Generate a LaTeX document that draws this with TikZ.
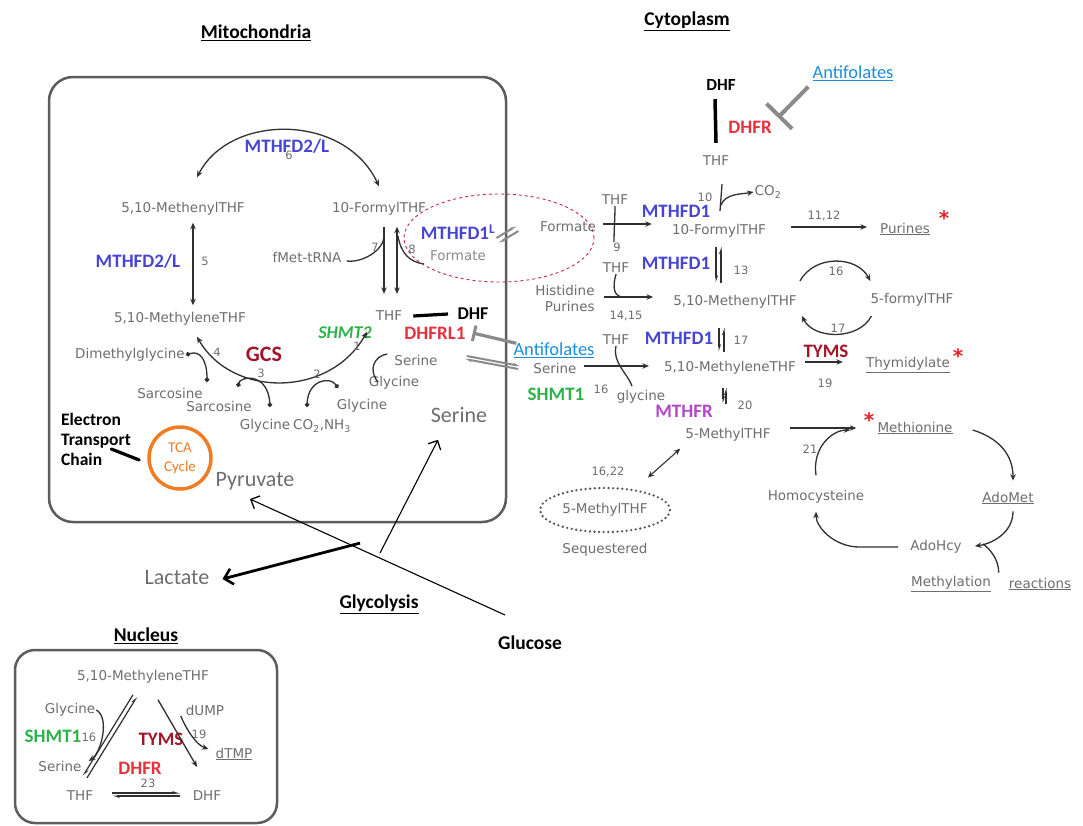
\documentclass[tikz,border=0pt]{standalone}
\usepackage{fontspec}
\setmainfont{Carlito}
\newfontfamily\metfont{DejaVu Sans}
\usetikzlibrary{arrows.meta,calc,positioning,shapes.geometric}
\definecolor{Met}{HTML}{6E6E6E}
\definecolor{Ink}{HTML}{303030}
\definecolor{Frame}{HTML}{5C5C5C}
\definecolor{Enz}{HTML}{4646D2}
\definecolor{EnzRed}{HTML}{E6323E}
\definecolor{EnzDark}{HTML}{A3162A}
\definecolor{EnzGreen}{HTML}{2DB34A}
\definecolor{EnzPink}{HTML}{B347C8}
\definecolor{Tca}{HTML}{F07D23}
\definecolor{Link}{HTML}{1C8FDB}
\definecolor{Mark}{HTML}{E8202A}
\definecolor{Inhib}{HTML}{8A8A8A}
\definecolor{Loop}{HTML}{C8283C}

\begin{document}
\begin{tikzpicture}[x=1pt,y=-1pt,
  met/.style={font=\metfont\fontsize{13.5}{16}\selectfont,text=Met,inner sep=1pt},
  num/.style={font=\metfont\fontsize{11.5}{13}\selectfont,text=Met,inner sep=0pt},
  enz/.style={font=\bfseries\fontsize{19}{21}\selectfont,inner sep=1pt},
  big/.style={font=\fontsize{22}{24}\selectfont,text=Met,inner sep=1pt},
  ttl/.style={font=\bfseries\fontsize{19.5}{22}\selectfont,inner sep=1pt},
  link/.style={font=\fontsize{18.5}{20}\selectfont,text=Link,inner sep=1pt},
  redmark/.style={font=\metfont\bfseries\fontsize{20}{20}\selectfont,text=Mark,inner sep=0pt},
  flow/.style={-{Stealth[length=6.5pt,width=5.5pt]},draw=Ink,line width=1.3pt},
  both/.style={{Stealth[length=6.5pt,width=5.5pt]}-{Stealth[length=6.5pt,width=5.5pt]},draw=Ink,line width=1.3pt},
  hook/.style={draw=Ink,line width=1.3pt},
  ball/.style={{Circle[length=4.5pt]}-{Circle[length=4.5pt]},draw=Ink,line width=1.3pt},
  harp/.style={-{Stealth[harpoon,length=6pt,width=4pt]},draw=Ink,line width=1.2pt},
  gharp/.style={-{Stealth[harpoon,length=6pt,width=4pt]},draw=Inhib,line width=2pt},
  inhib/.style={-{Bar[width=36pt,line width=4pt]},draw=Inhib,line width=4pt},
  barb/.style={-{Straight Barb[length=7pt,width=14pt,line width=1.3pt]},draw=black,line width=1.1pt}]
\path[fill=white] (0,0) rectangle (1083,825);
\useasboundingbox (0,0) rectangle (1083,825);

\draw[Frame,line width=2.5pt,rounded corners=24pt] (49,77) rectangle (506,522);
\draw[Frame,line width=2.5pt,rounded corners=20pt] (15,650) rectangle (277,823);

\node[ttl] (mito) at (256,33) {\underline{Mitochondria}};
\node[ttl] (cyto) at (687,21) {\underline{Cytoplasm}};
\node[ttl] (nuc) at (146,636) {\underline{Nucleus}};

\node[met] (mmethenyl) at (183,209) {5,10-MethenylTHF};
\node[met] (mformyl) at (379,209) {10-FormylTHF};
\node[enz,text=Enz] (mthfd2a) at (287,146) {MTHFD2/L};
\node[num] (n6) at (289,155) {6};
\draw[both] ([yshift=15pt]mformyl.north) .. controls (345,113) and (230,113) .. ($(mmethenyl.north)+(14,-24)$);
\node[enz,text=Enz] (mthfd2b) at (138,261) {MTHFD2/L};
\node[num] (n5) at (205,261) {5};
\node[met] (mmethylene) at (180,319) {5,10-MethyleneTHF};
\draw[both] ($(mmethenyl.south)+(10,6)$) -- ($(mmethylene.north)+(13,-6)$);
\node[met] (fmet) at (307,257) {fMet-tRNA};
\node[num] (n7) at (375,247) {7};
\node[num] (n8) at (412,249) {8};
\node[met] (mthf) at (389,316) {THF};
\draw[flow] ($(mformyl.south)+(5,10)$) -- ($(mthf.north)+(-5,-16)$);
\draw[both] ($(mformyl.south)+(18,10)$) -- ($(mthf.north)+(8,-16)$);
\draw[hook] ($(fmet.east)+(4,4)$) .. controls +(16,2) and +(0,14) .. (384,236);
\draw[hook] (398,236) .. controls (401,254) and (410,262) .. (424,264);
\node[draw=Loop,dashed,line width=0.9pt,ellipse,minimum width=190pt,minimum height=88pt,inner sep=0pt] (formell) at (499,238) {};
\node[enz,text=Enz] (mthfd1l) at (458,232) {MTHFD1\textsuperscript{L}};
\node[met,text=Met!80] (mformate) at (458,256) {Formate};
\draw[gharp] ($(mthfd1l.east)+(0,6)$) -- ($(mthfd1l.east)+(20,-6)$);
\draw[gharp] ($(mthfd1l.east)+(22,-1)$) -- ($(mthfd1l.east)+(2,11)$);
\node[font=\bfseries\fontsize{18}{20}\selectfont] (mdhf) at (473,314) {DHF};
\draw[line width=3.2pt] ($(mthf.east)+(10,0)$) -- ($(mdhf.west)+(-6,0)$);
\node[enz,text=EnzRed] (dhfrl1) at (435,333) {DHFRL1};
\node[enz,text=EnzGreen,font=\bfseries\itshape\fontsize{18}{20}\selectfont] (shmt2) at (345,333) {SHMT2};
\node[enz,text=EnzDark,font=\bfseries\fontsize{22}{24}\selectfont] (gcs) at (264,354) {GCS};
\node[met] (dmg) at (130,355) {Dimethylglycine};
\node[met] (sarc1) at (170,393) {Sarcosine};
\node[met] (sarc2) at (219,406) {Sarcosine};
\node[met] (gly1) at (265,426) {Glycine};
\node[met] (co2nh3) at (322,426) {CO\textsubscript{2},NH\textsubscript{3}};
\node[met] (gly2) at (362,406) {Glycine};
\node[met] (gly3) at (394,383) {Glycine};
\node[met] (mserine) at (416,360) {Serine};
\draw[both] ($(mmethylene.south)+(17,10)$) .. controls (232,398) and (330,398) .. ($(shmt2.north east)+(-6,6)$);
\draw[ball] (dmg.east) .. controls (200,350) and (207,360) .. (207,382);
\draw[ball] (238,387) .. controls (240,376) and (268,372) .. (270,407);
\draw[ball] (307,407) .. controls (308,380) and (330,376) .. (338,388);
\draw[hook] ($(mserine.west)+(-6,-6)$) .. controls (374,356) and (368,370) .. (378,382);
\node[num] (n4) at (217,352) {4};
\node[num] (n3) at (261,373) {3};
\node[num] (n2) at (317,374) {2};
\node[num] (n1) at (357,346) {1};

\node[circle,draw=Tca,line width=3.5pt,minimum size=62pt,inner sep=0pt,align=center,text=Tca,font=\fontsize{15}{19}\selectfont] (tca) at (180,458) {TCA\\Cycle};
\node[font=\bfseries\fontsize{17.5}{20}\selectfont,align=left,inner sep=0pt] (etc) at (96,439) {Electron\\Transport\\Chain};
\draw[line width=3.2pt,line cap=round] ($(tca.west)+(-8,2)$) -- ($(tca.west)+(-36,-9)$);
\node[big] (pyr) at (255,481) {Pyruvate};
\node[big] (bserine) at (459,415) {Serine};
\node[big] (lac) at (177,578) {Lactate};
\node[ttl] (glyco) at (379,604) {\underline{Glycolysis}};
\node[ttl] (gluc) at (530,643) {Glucose};
\coordinate (gstart) at (505,615);
\coordinate (gfork) at ($(gstart)!0.5!(pyr.south)$);
\coordinate (gfork2) at ($(gstart)!0.58!(pyr.south)$);
\draw[barb] (gstart) -- ($(pyr.south)+(-5,8)$);
\draw[barb] (gfork) -- ($(bserine.south)+(-21,16)$);
\draw[-{Straight Barb[length=8pt,width=16pt,line width=2.6pt]},line width=2.8pt] (gfork2) -- ($(lac.east)+(12,1)$);

\node[font=\bfseries\fontsize{17}{19}\selectfont] (cdhf) at (721,85) {DHF};
\node[link] (anti1) at (853,73) {\underline{Antifolates}};
\node[enz,text=EnzRed] (dhfr) at (750,127) {DHFR};
\node[met] (cthf1) at (716,161) {THF};
\draw[line width=3.5pt] ($(cdhf.south)+(-6,5)$) -- ($(cthf1.north)+(0,-12)$);
\draw[inhib] ($(anti1.south west)+(-3,5)$) -- ($(dhfr.north east)+(5,-2)$);
\node[met] (cco2) at (768,192) {CO\textsubscript{2}};
\node[num] (n10) at (705,197) {10};
\node[met] (cthf2) at (615,200) {THF};
\node[enz,text=Enz] (mthfd1a) at (676,211) {MTHFD1};
\node[met] (cformate) at (568,227) {Formate};
\node[met] (cformyl) at (719,231) {10-FormylTHF};
\draw[hook] ($(cthf1.south)+(6,17)$) -- ($(cthf1.south)+(4,44)$);
\draw[flow] ($(cthf1.south)+(5,38)$) .. controls +(4,-12) and +(-10,2) .. (cco2.west);
\draw[flow,shorten <=6pt,shorten >=19pt] ([yshift=3pt]cformate.east) -- ([yshift=3pt]cformate.east -| cformyl.west);
\draw[hook] (cthf2.south) .. controls +(0,12) and +(0,-12) .. ($(cthf2.south)+(-1,36)$);
\node[num] (n9) at (617,247) {9};
\node[num] (n1112) at (824,216) {11,12};
\node[met] (purines1) at (905,229) {\underline{Purines}};
\node[redmark] (star1) at (944,218) {*};
\draw[flow,shorten <=24pt,shorten >=12pt] ([yshift=4pt]cformyl.east) -- ([yshift=4pt]cformyl.east -| purines1.west);

\node[met] (cthf3) at (616,268) {THF};
\node[enz,text=Enz] (mthfd1b) at (676,263) {MTHFD1};
\node[num] (n13) at (741,270) {13};
\node[met,align=right] (histpur) at (565,298) {Histidine\\Purines};
\node[met] (cmethenyl) at (735,302) {5,10-MethenylTHF};
\draw[harp] ($(cformyl.south)+(-3,8)$) -- ($(cformyl.south)+(-3,44)$);
\draw[harp] ($(cformyl.south)+(2,44)$) -- ($(cformyl.south)+(2,8)$);
\draw[flow,shorten <=8pt,shorten >=19pt] ([yshift=1pt]histpur.east) -- ([yshift=1pt]histpur.east -| cmethenyl.west);
\draw[hook] (cthf3.south) .. controls +(-4,14) and +(-10,0) .. ($(cthf3.south)+(8,23)$);
\node[num] (n1415) at (626,316) {14,15};
\node[met] (cformylthf5) at (912,300) {5-formylTHF};
\draw[flow] ($(cmethenyl.east)+(2,-21)$) .. controls +(14,-26) and +(-14,-26) .. ($(cformylthf5.west)+(1,-19)$);
\draw[flow] ($(cformylthf5.west)+(2,16)$) .. controls +(-12,24) and +(12,24) .. ($(cmethenyl.east)+(4,14)$);
\node[num] (n16a) at (836,271) {16};
\node[num] (n17a) at (838,328) {17};

\node[met] (cthf4) at (616,340) {THF};
\node[enz,text=Enz] (mthfd1c) at (679,338) {MTHFD1};
\node[num] (n17b) at (741,340) {17};
\node[link] (anti2) at (554,350) {\underline{Antifolates}};
\node[met] (cserine) at (555,368) {Serine};
\node[met] (cmethylene) at (730,368) {5,10-MethyleneTHF};
\draw[harp] ($(cmethenyl.south)+(-16,18)$) -- ($(cmethenyl.south)+(-16,42)$);
\draw[harp] ($(cmethenyl.south)+(-11,42)$) -- ($(cmethenyl.south)+(-11,18)$);
\draw[flow,shorten <=6pt,shorten >=14pt] ([yshift=2pt]cserine.east) -- ([yshift=2pt]cserine.east -| cmethylene.west);
\draw[hook] (cthf4.south) .. controls +(-4,16) and +(-4,-12) .. ($(cthf4.south)+(16,40)$);
\draw[inhib,-{Bar[width=16pt,line width=3pt]},line width=3.2pt] ($(anti2.north west)+(4,2)$) -- ($(dhfrl1.east)+(6,0)$);
\draw[gharp] ([yshift=4pt]$(mserine.east)+(28,0)$) -- ([yshift=2pt]$(cserine.west)+(-12,0)$);
\draw[gharp] ([yshift=-1pt]$(cserine.west)+(-14,0)$) -- ([yshift=1pt]$(mserine.east)+(26,0)$);
\node[enz,text=EnzGreen] (shmt1) at (556,394) {SHMT1};
\node[num] (n16b) at (601,389) {16};
\node[met] (cglycine) at (641,397) {glycine};
\node[enz,text=EnzDark] (tyms) at (826,351) {TYMS};
\node[met] (thymidylate) at (908,365) {\underline{Thymidylate}};
\node[redmark] (star2) at (958,356) {*};
\draw[flow,shorten <=8pt,shorten >=22pt] ([yshift=6pt]cmethylene.east) -- ([yshift=6pt]cmethylene.east -| thymidylate.west);
\node[num] (n19) at (825,383) {19};

\node[enz,text=EnzPink] (mthfr) at (684,411) {MTHFR};
\node[met] (cmethyl) at (728,435) {5-MethylTHF};
\draw[harp] ($(cmethylene.south)+(-7,12)$) -- ($(cmethylene.south)+(-7,28)$);
\draw[harp] ($(cmethylene.south)+(-4,28)$) -- ($(cmethylene.south)+(-4,12)$);
\node[num] (n20) at (745,405) {20};
\node[met] (methionine) at (915,428) {\underline{Methionine}};
\node[redmark] (star3) at (869,420) {*};
\draw[flow,shorten <=18pt,shorten >=20pt] ([yshift=7pt]cmethyl.east) -- ([yshift=7pt]cmethyl.east -| methionine.west);
\node[met] (n1622) at (608,472) {\fontsize{11.5}{13}\selectfont 16,22};
\node[met,draw=Met!80!black,ellipse,line width=2.6pt,dash pattern=on 0pt off 4.6pt,line cap=round,minimum width=130pt,minimum height=44pt,inner sep=0pt] (seqell) at (605,510) {5-MethylTHF};
\node[met] (seq) at (605,550) {Sequestered};
\draw[both,line width=1.1pt] ($(seqell.north east)+(-4,-16)$) -- ($(cmethyl.south west)+(-4,6)$);

\node[met] (homocys) at (816,497) {Homocysteine};
\node[met] (adomet) at (1008,498) {\underline{AdoMet}};
\node[met] (adohcy) at (936,547) {AdoHcy};
\node[met] (methyl) at (951,584) {\underline{Methylation}};
\node[met] (reac) at (1040,584) {\underline{reactions}};
\draw[flow] ([yshift=14pt]homocys.north) .. controls +(-4,-28) and +(-18,0) .. ($(methionine.west)+(-26,2)$);
\node[num] (n21) at (810,449) {21};
\draw[flow] ($(methionine.east)+(19,2)$) .. controls +(26,8) and +(0,-26) .. ($(adomet.north)+(5,-10)$);
\draw[flow] ($(adomet.south)+(5,6)$) .. controls +(0,22) and +(16,-2) .. ($(adohcy.east)+(12,-1)$);
\draw[hook] ($(reac.north west)+(-9,-4)$) .. controls +(0,-14) and +(6,4) .. ($(adohcy.east)+(20,-3)$);
\draw[flow] ($(adohcy.west)+(-11,0)$) -- ($(adohcy.west)+(-50,0)$) .. controls +(-24,0) and +(0,16) .. ([yshift=-7pt]homocys.south);

\node[met] (nmethylene) at (143,677) {5,10-MethyleneTHF};
\node[met] (nglycine) at (70,710) {Glycine};
\node[enz,text=EnzGreen] (nshmt1) at (53,736) {SHMT1};
\node[num] (n16c) at (89,737) {16};
\node[met] (nserine) at (60,766) {Serine};
\node[met] (nthf) at (80,796) {THF};
\node[met] (ndhf) at (207,796) {DHF};
\node[num] (n23) at (148,783) {23};
\node[enz,text=EnzRed] (ndhfr) at (140,768) {DHFR};
\node[enz,text=EnzDark] (ntyms) at (161,739) {TYMS};
\node[met] (ndump) at (205,710) {dUMP};
\node[num] (n19c) at (199,734) {19};
\node[met] (ndtmp) at (234,754) {\underline{dTMP}};
\draw[harp] ($(nthf.north)+(7,-12)$) -- ($(nmethylene.south)+(-6,12)$);
\draw[harp] ($(nmethylene.south)+(-10,10)$) -- ($(nthf.north)+(3,-14)$);
\draw[flow] (nglycine.east) .. controls +(14,8) and +(12,-8) .. ($(nserine.east)+(6,-5)$);
\draw[flow] ($(nmethylene.south)+(15,15)$) -- ($(ndhf.north)+(-10,-23)$);
\draw[flow] ($(ndump.west)+(-4,6)$) .. controls +(6,14) and +(-12,-4) .. ($(ndtmp.west)+(-6,-5)$);
\draw[harp] ($(nthf.east)+(18,-3)$) -- ($(ndhf.west)+(-12,-3)$);
\draw[harp] ($(ndhf.west)+(-12,0)$) -- ($(nthf.east)+(18,0)$);
\end{tikzpicture}
\end{document}
